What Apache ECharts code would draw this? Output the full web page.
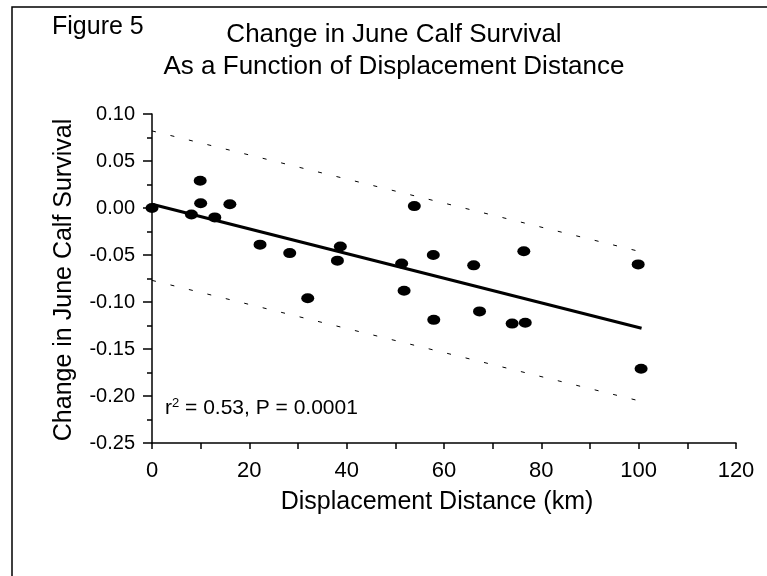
<!DOCTYPE html>
<html>
<head>
<meta charset="utf-8">
<script src="https://cdn.jsdelivr.net/npm/echarts@6/dist/echarts.min.js"></script>
<style>
html,body{margin:0;padding:0;background:#fff;}
#chart{width:767px;height:576px;}
</style>
</head>
<body>
<div id="chart"></div>
<script>
// Displacement distance (km)
var distanceKm = [0, 8.1, 9.9, 10.0, 12.9, 16.0, 22.2, 28.3, 32.0, 38.1, 38.7, 51.3, 51.8, 53.9, 57.8, 57.9, 66.1, 67.3, 74.0, 76.4, 76.7, 99.9, 100.5];
// Change in June calf survival
var survivalChange = [0.000, -0.007, 0.029, 0.005, -0.010, 0.004, -0.039, -0.048, -0.096, -0.056, -0.041, -0.059, -0.088, 0.002, -0.050, -0.119, -0.061, -0.110, -0.123, -0.046, -0.122, -0.060, -0.171];
// Regression line endpoints [x, y]
var fitX = [0, 100.6];
var fitY = [0.004, -0.128];
// Prediction band endpoints
var upperX = [0, 100];
var upperY = [0.082, -0.046];
var lowerX = [0, 100];
var lowerY = [-0.077, -0.205];
// Axis ticks
var xTickLabels = [0, 20, 40, 60, 80, 100, 120];
var yTickLabels = ['0.10', '0.05', '0.00', '-0.05', '-0.10', '-0.15', '-0.20', '-0.25'];

function pairs(xs, ys){ return xs.map(function(x,i){ return [x, ys[i]]; }); }

var font = '"Liberation Sans", Arial, sans-serif';
var chart = echarts.init(document.getElementById('chart'), null, {renderer:'canvas'});
chart.setOption({
  animation:false,
  backgroundColor:'#fff',
  grid:{left:152, right:31, top:114, bottom:133},
  xAxis:{
    type:'value', min:0, max:120, interval:10,
    axisLine:{show:true, onZero:false, lineStyle:{color:'#000', width:1.5}},
    axisTick:{show:true, length:6, inside:false, lineStyle:{color:'#000', width:1.5}},
    splitLine:{show:false},
    axisLabel:{
      color:'#000', fontFamily:font, fontSize:22, margin:17,
      formatter:function(v){ return xTickLabels.indexOf(v) >= 0 ? String(v) : ''; }
    }
  },
  yAxis:{
    type:'value', min:-0.25, max:0.10, interval:0.05,
    axisLine:{show:true, onZero:false, lineStyle:{color:'#000', width:1.5}},
    axisTick:{show:true, length:9, lineStyle:{color:'#000', width:1.5}},
    minorTick:{show:true, splitNumber:2, length:5, lineStyle:{color:'#000', width:1.5}},
    splitLine:{show:false},
    axisLabel:{
      color:'#000', fontFamily:font, fontSize:20, margin:17,
      formatter:function(v){
        var s = v.toFixed(2);
        if (s === '-0.00') s = '0.00';
        return yTickLabels.indexOf(s) >= 0 ? s : '';
      }
    }
  },
  series:[
    {type:'line', data:pairs(upperX, upperY), symbol:'none', silent:true,
     lineStyle:{color:'#000', width:1, type:[4,15]}},
    {type:'line', data:pairs(lowerX, lowerY), symbol:'none', silent:true,
     lineStyle:{color:'#000', width:1, type:[4,15]}},
    {type:'line', data:pairs(fitX, fitY), symbol:'none', silent:true,
     lineStyle:{color:'#000', width:3}},
    {type:'scatter', data:pairs(distanceKm, survivalChange), symbol:'circle', symbolSize:[13,10],
     itemStyle:{color:'#000', opacity:1}}
  ],
  graphic:[
    {type:'polyline', shape:{points:[[12,576],[12,7],[767,7]]}, style:{stroke:'#000', lineWidth:1.5, fill:null}},
    {type:'text', x:52, y:27, style:{text:'Figure 5', fontFamily:font, fontSize:25, fill:'#000', textVerticalAlign:'middle'}},
    {type:'text', x:394, y:35, style:{text:'Change in June Calf Survival', fontFamily:font, fontSize:26, fill:'#000', textAlign:'center', textVerticalAlign:'middle'}},
    {type:'text', x:394, y:67, style:{text:'As a Function of Displacement Distance', fontFamily:font, fontSize:26, fill:'#000', textAlign:'center', textVerticalAlign:'middle'}},
    {type:'text', x:64, y:280, rotation:Math.PI/2, style:{text:'Change in June Calf Survival', fontFamily:font, fontSize:25, fill:'#000', textAlign:'center', textVerticalAlign:'middle'}},
    {type:'text', x:437, y:502, style:{text:'Displacement Distance (km)', fontFamily:font, fontSize:25, fill:'#000', textAlign:'center', textVerticalAlign:'middle'}},
    {type:'text', x:165, y:408, style:{rich:{n:{fontFamily:font, fontSize:21, fill:'#000'}, s:{fontFamily:font, fontSize:13, fill:'#000', verticalAlign:'top', padding:[0,0,9,0]}}, text:'{n|r}{s|2}{n| = 0.53, P = 0.0001}', textVerticalAlign:'middle'}}
  ]
});
</script>
</body>
</html>
